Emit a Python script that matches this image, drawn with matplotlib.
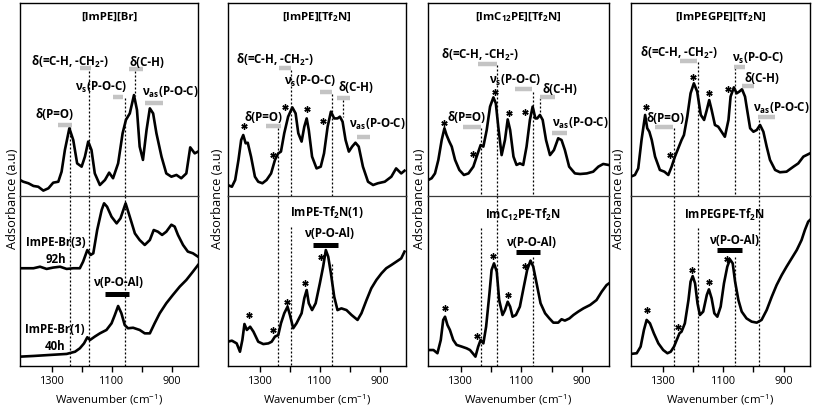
import matplotlib
matplotlib.use("Agg")
import matplotlib.pyplot as plt

plt.rcParams['font.family'] = ['Open Sans', 'DejaVu Sans']
plt.rcParams['mathtext.default'] = 'regular'

# ---- spectra (wavenumber cm-1, absorbance a.u.) ----
# [ImPE][Br] neat
br_top_wn = [1407, 1396, 1379, 1362, 1346, 1329, 1312, 1296, 1279, 1268, 1257, 1242, 1229, 1216, 1201, 1190,
             1179, 1168, 1157, 1140, 1123, 1109, 1096, 1079, 1064, 1053, 1040, 1026, 1016, 1007, 996, 984,
             973, 962, 951, 934, 918, 901, 884, 868, 851, 838, 823, 812]
br_top_ab = [0.083, 0.074, 0.066, 0.052, 0.048, 0.028, 0.040, 0.069, 0.074, 0.126, 0.238, 0.351, 0.290, 0.169,
             0.152, 0.204, 0.282, 0.238, 0.117, 0.057, 0.083, 0.121, 0.092, 0.169, 0.325, 0.394, 0.428, 0.523,
             0.446, 0.256, 0.187, 0.342, 0.454, 0.428, 0.325, 0.204, 0.117, 0.100, 0.109, 0.092, 0.117, 0.252,
             0.221, 0.230]
# ImPE-Br(3) 92h
br3_wn = [1407, 1362, 1340, 1318, 1296, 1273, 1251, 1229, 1207, 1196, 1182, 1171, 1162, 1149, 1134, 1126,
          1116, 1101, 1084, 1071, 1054, 1040, 1023, 1007, 990, 973, 960, 946, 932, 918, 901, 890, 879, 862,
          846, 829, 812]
br3_ab = [0.575, 0.575, 0.584, 0.571, 0.579, 0.584, 0.571, 0.575, 0.575, 0.614, 0.682, 0.653, 0.663, 0.800,
          0.918, 0.957, 0.937, 0.878, 0.839, 0.869, 0.957, 0.878, 0.780, 0.741, 0.712, 0.741, 0.800, 0.790,
          0.771, 0.790, 0.831, 0.820, 0.771, 0.712, 0.673, 0.663, 0.643]
# ImPE-Br(1) 40h
br1_wn = [1407, 1362, 1307, 1251, 1223, 1207, 1193, 1182, 1173, 1157, 1140, 1118, 1101, 1090, 1079, 1068,
          1057, 1046, 1029, 1007, 990, 973, 957, 940, 918, 896, 873, 851, 829, 812]
br1_ab = [0.055, 0.059, 0.065, 0.071, 0.084, 0.104, 0.133, 0.169, 0.153, 0.173, 0.192, 0.212, 0.251, 0.300,
          0.353, 0.310, 0.241, 0.222, 0.225, 0.212, 0.192, 0.192, 0.251, 0.310, 0.369, 0.418, 0.467, 0.506,
          0.555, 0.594]

# [ImPE][Tf2N] neat
tf_top_wn = [1408, 1394, 1383, 1372, 1363, 1356, 1348, 1341, 1330, 1317, 1306, 1292, 1278, 1263, 1250, 1239,
             1230, 1219, 1206, 1192, 1181, 1172, 1161, 1152, 1144, 1137, 1126, 1111, 1097, 1086, 1074, 1063,
             1052, 1041, 1033, 1024, 1014, 1003, 992, 981, 970, 956, 939, 922, 906, 883, 861, 845, 828, 817]
tf_top_ab = [0.057, 0.048, 0.083, 0.187, 0.290, 0.316, 0.273, 0.276, 0.204, 0.100, 0.074, 0.066, 0.083, 0.117,
             0.187, 0.221, 0.230, 0.325, 0.411, 0.459, 0.428, 0.325, 0.282, 0.359, 0.402, 0.342, 0.204, 0.143,
             0.152, 0.221, 0.359, 0.437, 0.402, 0.402, 0.411, 0.385, 0.290, 0.230, 0.256, 0.276, 0.256, 0.152,
             0.074, 0.057, 0.066, 0.074, 0.100, 0.143, 0.117, 0.131]
# ImPE-Tf2N(1)
tf1_wn = [1408, 1394, 1378, 1367, 1359, 1352, 1344, 1333, 1322, 1306, 1289, 1272, 1261, 1250, 1239, 1230,
          1219, 1208, 1200, 1189, 1178, 1161, 1152, 1144, 1137, 1126, 1114, 1100, 1089, 1080, 1072, 1063,
          1052, 1041, 1028, 1011, 994, 974, 961, 944, 928, 911, 894, 878, 861, 844, 828, 817]
tf1_ab = [0.143, 0.149, 0.133, 0.084, 0.153, 0.247, 0.212, 0.231, 0.202, 0.143, 0.129, 0.133, 0.143, 0.173,
          0.182, 0.251, 0.310, 0.349, 0.300, 0.222, 0.251, 0.310, 0.398, 0.447, 0.369, 0.329, 0.369, 0.486,
          0.584, 0.682, 0.643, 0.545, 0.408, 0.329, 0.339, 0.329, 0.300, 0.271, 0.310, 0.388, 0.457, 0.506,
          0.545, 0.575, 0.594, 0.614, 0.633, 0.673]

# [ImC12PE][Tf2N] neat
c12_top_wn = [1406, 1395, 1384, 1373, 1362, 1353, 1346, 1337, 1329, 1318, 1304, 1289, 1274, 1258, 1247, 1234,
              1225, 1214, 1203, 1192, 1184, 1176, 1165, 1154, 1145, 1137, 1126, 1116, 1105, 1094, 1083, 1072,
              1063, 1054, 1048, 1039, 1030, 1019, 1006, 993, 979, 968, 957, 943, 924, 907, 885, 864, 847, 831,
              814]
c12_top_ab = [0.083, 0.092, 0.117, 0.187, 0.290, 0.351, 0.316, 0.282, 0.256, 0.187, 0.135, 0.109, 0.117, 0.152,
              0.204, 0.264, 0.256, 0.342, 0.463, 0.511, 0.480, 0.359, 0.212, 0.290, 0.397, 0.342, 0.204, 0.161,
              0.169, 0.161, 0.256, 0.394, 0.463, 0.402, 0.402, 0.420, 0.394, 0.290, 0.212, 0.238, 0.299, 0.290,
              0.238, 0.152, 0.117, 0.114, 0.117, 0.126, 0.152, 0.166, 0.161]
# ImC12PE-Tf2N
c12_low_wn = [1406, 1389, 1376, 1365, 1357, 1351, 1343, 1335, 1324, 1313, 1296, 1280, 1269, 1260, 1251, 1242,
              1234, 1225, 1216, 1205, 1198, 1190, 1181, 1173, 1162, 1154, 1145, 1137, 1129, 1118, 1105, 1092,
              1081, 1070, 1061, 1050, 1037, 1022, 1008, 995, 979, 968, 957, 942, 929, 913, 896, 874, 853, 836,
              820, 812]
c12_low_ab = [0.094, 0.094, 0.075, 0.153, 0.271, 0.290, 0.241, 0.212, 0.153, 0.124, 0.114, 0.104, 0.094, 0.075,
              0.055, 0.114, 0.153, 0.133, 0.231, 0.427, 0.565, 0.604, 0.555, 0.388, 0.300, 0.329, 0.378, 0.349,
              0.290, 0.300, 0.349, 0.467, 0.565, 0.620, 0.584, 0.486, 0.369, 0.310, 0.280, 0.255, 0.255, 0.275,
              0.267, 0.280, 0.300, 0.320, 0.339, 0.359, 0.388, 0.437, 0.476, 0.486]

# [ImPEGPE][Tf2N] neat
peg_top_wn = [1408, 1394, 1383, 1372, 1360, 1353, 1346, 1338, 1327, 1311, 1296, 1283, 1272, 1261, 1250, 1239,
              1231, 1220, 1209, 1198, 1187, 1175, 1164, 1155, 1147, 1139, 1128, 1117, 1106, 1095, 1083, 1076,
              1065, 1056, 1047, 1038, 1028, 1020, 1011, 1000, 989, 978, 967, 956, 945, 928, 912, 890, 867, 851,
              834, 812]
peg_top_ab = [0.100, 0.109, 0.143, 0.290, 0.420, 0.351, 0.333, 0.290, 0.204, 0.135, 0.126, 0.109, 0.152, 0.204,
              0.247, 0.290, 0.316, 0.411, 0.532, 0.584, 0.541, 0.420, 0.394, 0.446, 0.497, 0.446, 0.368, 0.359,
              0.333, 0.307, 0.394, 0.515, 0.563, 0.532, 0.541, 0.553, 0.515, 0.437, 0.351, 0.333, 0.342, 0.368,
              0.333, 0.256, 0.187, 0.135, 0.123, 0.126, 0.152, 0.169, 0.204, 0.221]
# ImPEGPE-Tf2N
peg_low_wn = [1408, 1388, 1375, 1364, 1355, 1344, 1331, 1316, 1300, 1286, 1275, 1264, 1255, 1246, 1239, 1228,
              1216, 1209, 1202, 1194, 1186, 1178, 1167, 1155, 1148, 1139, 1130, 1120, 1109, 1098, 1087, 1078,
              1069, 1061, 1050, 1039, 1023, 1006, 989, 973, 956, 939, 923, 906, 890, 873, 856, 840, 829, 818, 812]
peg_low_ab = [0.071, 0.075, 0.114, 0.212, 0.271, 0.251, 0.192, 0.133, 0.094, 0.075, 0.084, 0.114, 0.153, 0.192,
              0.202, 0.251, 0.388, 0.496, 0.529, 0.486, 0.369, 0.300, 0.320, 0.418, 0.451, 0.398, 0.310, 0.290,
              0.349, 0.486, 0.584, 0.627, 0.604, 0.496, 0.388, 0.320, 0.280, 0.261, 0.255, 0.271, 0.329, 0.408,
              0.476, 0.535, 0.584, 0.633, 0.682, 0.741, 0.800, 0.849, 0.859]

titles = ["[ImPE][Br]", "[ImPE][Tf$_2$N]", "[ImC$_{12}$PE][Tf$_2$N]", "[ImPEGPE][Tf$_2$N]"]
tick_major = [1300, 1100, 900]
tick_minor = [1200, 1000]

# asterisks (Tf2N bands)
tf_top_stars = [(1352, 0.363), (1256, 0.212), (1217, 0.463), (1144, 0.449), (1088, 0.390)]
tf1_stars = [(1336, 0.300), (1256, 0.212), (1211, 0.378), (1150, 0.486), (1097, 0.639)]
c12_top_stars = [(1353, 0.377), (1260, 0.218), (1187, 0.541), (1142, 0.432), (1087, 0.437)]
c12_low_stars = [(1351, 0.339), (1247, 0.176), (1192, 0.647), (1143, 0.418), (1088, 0.588)]
peg_top_stars = [(1358, 0.463), (1277, 0.212), (1200, 0.618), (1147, 0.532), (1083, 0.553)]
peg_low_stars = [(1355, 0.329), (1250, 0.231), (1203, 0.565), (1147, 0.496), (1089, 0.627)]

dch = "δ(=C-H, -CH$_2$-)"
vs = "ν$_s$(P-O-C)"
vas = "ν$_{as}$(P-O-C)"
panels = [
    dict(top=[(br_top_wn, br_top_ab)], low=[(br3_wn, br3_ab), (br1_wn, br1_ab)],
         tstars=[], lstars=[],
         tlab=[(dch, 1240, 0.694), ("δ(C-H)", 982, 0.694), (vs, 1136, 0.56), (vas, 906, 0.534), ("δ(P=O)", 1293, 0.42)],
         bars=[(1206, 1170, 0.663), (1043, 996, 0.658), (1096, 1063, 0.513), (989, 929, 0.482), (1280, 1233, 0.368)],
         tlines=[(1240, 0.36, 0), (1176, 0.65, 0), (1056, 0.51, 0), (1023, 0.65, 0.52)],
         llines=[(1240, 1, 0), (1176, 1, 0), (1056, 1, 0)],
         llab=[("ImPE-Br(3)", 1287, 0.724), ("92h", 1287, 0.624), ("ImPE-Br(1)", 1290, 0.212), ("40h", 1290, 0.112),
               ("ν(P-O-Al)", 1079, 0.494)],
         alo=(1123, 1043, 0.424)),
    dict(top=[(tf_top_wn, tf_top_ab)], low=[(tf1_wn, tf1_ab)],
         tstars=tf_top_stars, lstars=tf1_stars,
         tlab=[(dch, 1250, 0.705), (vs, 1133, 0.591), ("δ(C-H)", 979, 0.56), ("δ(P=O)", 1290, 0.409), (vas, 909, 0.373)],
         bars=[(1236, 1196, 0.663), (1099, 1059, 0.539), (1043, 999, 0.508), (1280, 1230, 0.363), (976, 932, 0.306)],
         tlines=[(1240, 0.352, 0), (1197, 0.653, 0), (1060, 0.528, 0), (1023, 0.497, 0.41)],
         llines=[(1240, 1, 0), (1197, 0.818, 0), (1060, 0.6, 0)],
         llab=[("ImPE-Tf$_2$N(1)", 1075, 0.9), ("ν(P-O-Al)", 1069, 0.782)],
         alo=(1123, 1039, 0.712)),
    dict(top=[(c12_top_wn, c12_top_ab)], low=[(c12_low_wn, c12_low_ab)],
         tstars=c12_top_stars, lstars=c12_low_stars,
         tlab=[(dch, 1236, 0.731), (vs, 1121, 0.601), ("δ(C-H)", 973, 0.554), ("δ(P=O)", 1282, 0.409), (vas, 907, 0.378)],
         bars=[(1243, 1180, 0.684), (1121, 1065, 0.554), (1039, 990, 0.513), (1292, 1233, 0.358), (999, 950, 0.326)],
         tlines=[(1233, 0.352, 0), (1180, 0.68, 0), (1062, 0.539, 0), (1039, 0.51, 0.43)],
         llines=[(1233, 0.81, 0), (1180, 1, 0), (1062, 0.64, 0)],
         llab=[("ImC$_{12}$PE-Tf$_2$N", 1095, 0.888), ("ν(P-O-Al)", 1068, 0.729)],
         alo=(1118, 1039, 0.671)),
    dict(top=[(peg_top_wn, peg_top_ab)], low=[(peg_low_wn, peg_low_ab)],
         tstars=peg_top_stars, lstars=peg_low_stars,
         tlab=[(dch, 1247, 0.741), (vs, 985, 0.715), ("δ(C-H)", 971, 0.611), ("δ(P=O)", 1291, 0.404), (vas, 908, 0.456)],
         bars=[(1244, 1188, 0.699), (1065, 1028, 0.668), (1038, 998, 0.57), (1327, 1267, 0.358), (985, 928, 0.409)],
         tlines=[(1264, 0.352, 0), (1184, 0.694, 0), (1061, 0.663, 0), (982, 0.394, 0)],
         llines=[(1264, 1, 0), (1184, 0.81, 0), (1061, 0.64, 0), (982, 1, 0)],
         llab=[("ImPEGPE-Tf$_2$N", 1095, 0.888), ("ν(P-O-Al)", 1065, 0.741)],
         alo=(1121, 1038, 0.682)),
]

W, H = 813, 412
cols = [(20, 198), (228, 406), (428, 609), (631, 810)]
ylab_x = [12, 217, 419, 618]

fig = plt.figure(figsize=(W / 100, H / 100), dpi=100)
fs = 8.3
dots = (0, (1.6, 1.6))

for i, (l, r) in enumerate(cols):
    p = panels[i]
    axb = fig.add_axes([l / W, 1 - 366 / H, (r - l) / W, 170 / H])
    axt = fig.add_axes([l / W, 1 - 196 / H, (r - l) / W, 193 / H])
    axt.patch.set_visible(False)
    for ax in (axt, axb):
        ax.set_xlim(1407, 812)
        ax.set_ylim(0, 1)
        for s in ax.spines.values():
            s.set_linewidth(1.0)
    axt.set_xticks([])
    axt.set_yticks([])
    axt.spines['bottom'].set_color('#3a3a3a')
    axt.spines['bottom'].set_linewidth(0.9)
    axb.spines['top'].set_visible(False)
    axb.set_yticks([])
    axb.set_xticks(tick_major)
    axb.set_xticks(tick_minor, minor=True)
    axb.tick_params(axis='x', which='both', direction='out', length=4, width=1, pad=3, labelsize=7.8)
    axb.set_xlabel("Wavenumber (cm$^{-1}$)", fontsize=8.2, labelpad=4)

    for wn, ab in p['top']:
        axt.plot(wn, ab, color='black', lw=1.9, solid_joinstyle='round')
    for wn, ab in p['low']:
        axb.plot(wn, ab, color='black', lw=1.9, solid_joinstyle='round')

    for ax, stars in ((axt, p['tstars']), (axb, p['lstars'])):
        if stars:
            ax.plot([s[0] for s in stars], [s[1] for s in stars], ls='none',
                    marker=(6, 2, 0), ms=4.5, mew=1.0, color='black')

    for x, y0, y1 in p['tlines']:
        axt.plot([x, x], [y0, y1], color='black', lw=0.9, ls=dots)
    for x, y0, y1 in p['llines']:
        axb.plot([x, x], [y0, y1], color='black', lw=0.9, ls=dots)

    for x0, x1, y in p['bars']:
        axt.plot([x0, x1], [y, y], color='#c4c4c4', lw=3.2, solid_capstyle='butt')
    for txt, x, y in p['tlab']:
        axt.text(x, y, txt, ha='center', va='center', fontsize=fs, fontweight='bold')
    axt.text(0.5, 0.925, titles[i], transform=axt.transAxes, ha='center', va='center',
             fontsize=8.2, fontweight='bold')

    for txt, x, y in p['llab']:
        axb.text(x, y, txt, ha='center', va='center', fontsize=fs, fontweight='bold')
    x0, x1, y = p['alo']
    axb.plot([x0, x1], [y, y], color='black', lw=3.6, solid_capstyle='butt')

    fig.text(ylab_x[i] / W, 1 - 199 / H, "Adsorbance (a.u)", rotation=90,
             ha='center', va='center', fontsize=9.2)

fig.savefig("out.png", dpi=100)
